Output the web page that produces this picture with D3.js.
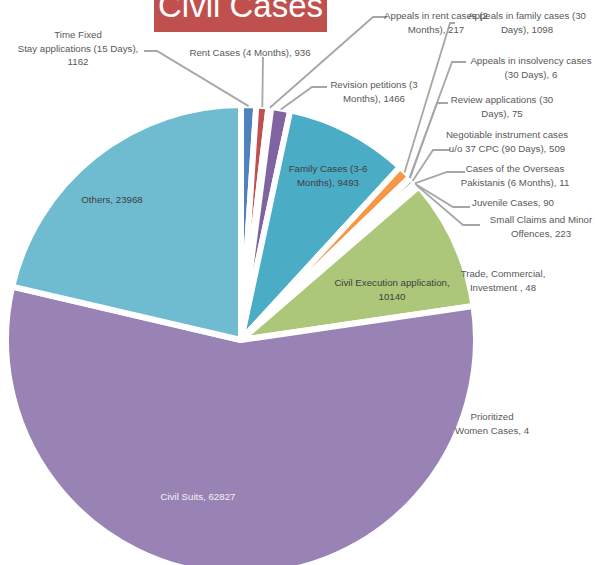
<!DOCTYPE html>
<html>
<head>
<meta charset="utf-8">
<script src="https://cdn.jsdelivr.net/npm/d3@7"></script>
<style>
  body { margin: 0; background: #fff; }
  svg { display: block; font-family: "Liberation Sans", Arial, sans-serif; }
</style>
</head>
<body>
<svg id="chart" width="595" height="565"></svg>
<script>
const width = 595;
const height = 565;

// slices, clockwise from 12 o'clock (same order as the sheet)
const categories = [
  'Time Fixed Stay applications (15 Days)',
  'Rent Cases (4 Months)',
  'Appeals in rent cases (2 Months)',
  'Revision petitions (3 Months)',
  'Family Cases (3-6 Months)',
  'Appeals in family cases (30 Days)',
  'Appeals in insolvency cases (30 Days)',
  'Review applications (30 Days)',
  'Negotiable instrument cases u/o 37 CPC (90 Days)',
  'Cases of the Overseas Pakistanis (6 Months)',
  'Juvenile Cases',
  'Small Claims and Minor Offences',
  'Trade, Commercial, Investment ',
  'Prioritized Women Cases',
  'Civil Execution application',
  'Civil Suits',
  'Others'
];
const values = [1162, 936, 217, 1466, 9493, 1098, 6, 75, 509, 11, 90, 223, 48, 4, 10140, 62827, 23968];

const colors = ['#4F81BD', '#C0504D', '#9BBB59', '#8064A2', '#4BACC6', '#F79646',
  '#2C4D75', '#772C2A', '#5F7530', '#4D3B62', '#276A7C', '#B65708',
  '#729ACA', '#CD7371', '#ACC77A', '#9983B5', '#6FBCD0'];

// label placement (Excel labels were dragged by hand)
// words = words per text line, pos = centre of first line, leader = [x0, y0, elbowX]
const labelLayout = [
  { words: [2, 4, 1], pos: [78, 35], leader: [144, 51, 157] },
  { words: [5], pos: [250, 53], leader: [263, 57, 263] },
  { words: [5, 2], pos: [436, 16], leader: [387, 17, 373] },
  { words: [3, 2], pos: [374, 85], leader: [327, 87, 312] },
  { words: [3, 2], pos: [328, 169], inside: true },
  { words: [5, 2], pos: [527, 16], leader: [455, 23, 450] },
  { words: [4, 3], pos: [531, 61], leader: [466, 62, 452] },
  { words: [3, 2], pos: [502, 100], leader: [448, 103, 437] },
  { words: [3, 6], pos: [507, 135], leader: [450, 150, 433] },
  { words: [4, 4], pos: [515, 169], leader: [465, 172, 447] },
  { words: [3], pos: [513, 203], leader: [470, 207, 453] },
  { words: [4, 2], pos: [541, 220], leader: [480, 225, 463] },
  { words: [2, 3], pos: [503, 274] },
  { words: [1, 3], pos: [492, 417] },
  { words: [3, 1], pos: [392, 283], inside: true },
  { words: [3], pos: [198, 497], inside: true, light: true },
  { words: [2], pos: [112, 200], inside: true }
];

const cx = 241, cy = 340, radius = 235;
const lineH = 13.5;

const svg = d3.select('#chart');

const pie = d3.pie().sort(null).value(d => d.value);
const arc = d3.arc().innerRadius(0).outerRadius(radius);

const data = categories.map((c, i) => ({ name: c, value: values[i], color: colors[i], layout: labelLayout[i] }));
const arcs = pie(data);

const g = svg.append('g').attr('transform', `translate(${cx},${cy})`);

g.selectAll('path')
  .data(arcs)
  .join('path')
  .attr('d', arc)
  .attr('fill', d => d.data.color)
  .attr('stroke', '#fff')
  .attr('stroke-width', 6)
  .attr('stroke-linejoin', 'round');

// leader lines: short horizontal piece next to the label, then straight to the slice edge
const edgePoint = d => {
  const a = (d.startAngle + d.endAngle) / 2;
  return [cx + Math.sin(a) * (radius - 1), cy - Math.cos(a) * (radius - 1)];
};

svg.append('g')
  .selectAll('polyline')
  .data(arcs.filter(d => d.data.layout.leader))
  .join('polyline')
  .attr('points', d => {
    const [x0, y0, x1] = d.data.layout.leader;
    const [ex, ey] = edgePoint(d);
    return [[x0, y0], [x1, y0], [ex, ey]].map(p => p.join(',')).join(' ');
  })
  .attr('fill', 'none')
  .attr('stroke', '#A6A6A6')
  .attr('stroke-width', 1.8);

// data labels "Category, value" split over lines
function labelLines(d) {
  const words = `${d.data.name}, ${d.data.value}`.split(/\s+/).filter(w => w);
  const out = [];
  let k = 0;
  d.data.layout.words.forEach(n => {
    out.push(words.slice(k, k + n).join(' '));
    k += n;
  });
  return out;
}

const labels = svg.append('g')
  .selectAll('text')
  .data(arcs)
  .join('text')
  .attr('text-anchor', 'middle')
  .attr('font-size', 9.7)
  .attr('fill', d => d.data.layout.light ? '#F2F2F2' : (d.data.layout.inside ? '#404040' : '#595959'));

labels.selectAll('tspan')
  .data(d => labelLines(d).map((t, i) => ({ t, i, pos: d.data.layout.pos })))
  .join('tspan')
  .attr('x', d => d.pos[0])
  .attr('y', d => d.pos[1] + d.i * lineH)
  .attr('dy', '0.35em')
  .text(d => d.t);

// title box (top is cut off in the original)
svg.append('rect')
  .attr('x', 154).attr('y', -12)
  .attr('width', 173).attr('height', 44)
  .attr('fill', '#C0504D');

svg.append('text')
  .attr('x', 240.5).attr('y', 17)
  .attr('text-anchor', 'middle')
  .attr('font-size', 33)
  .attr('fill', '#fff')
  .text('Civil Cases');
</script>
</body>
</html>
